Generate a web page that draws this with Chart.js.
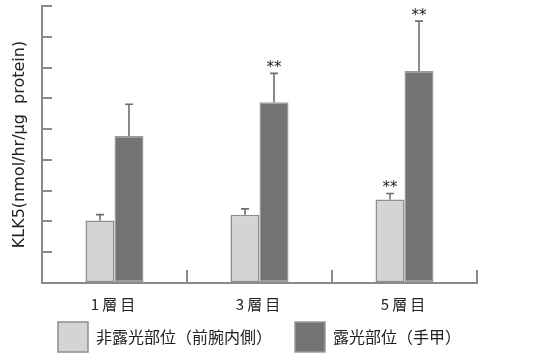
<!DOCTYPE html>
<html><head><meta charset="utf-8">
<script src="https://cdn.jsdelivr.net/npm/chart.js@4/dist/chart.umd.min.js"></script>
<style>html,body{margin:0;padding:0;background:#fff}#wrap{width:545px;height:362px}</style>
</head><body><div id="wrap"><canvas id="c" width="545" height="362"></canvas></div>
<script>
const categories = ['1層目', '3層目', '5層目'];
const seriesNames = ['非露光部位（前腕内側）', '露光部位（手甲）'];
const unexposedMean = [2.03, 2.22, 2.71];
const unexposedSD = [0.19, 0.19, 0.20];
const exposedMean = [4.78, 5.87, 6.89];
const exposedSD = [1.03, 0.94, 1.62];
const unexposedSig = ['', '', '**'];
const exposedSig = ['', '**', '**'];
const yMin = 0, yMax = 9, yStep = 1;
const yTitle = 'KLK5(nmol/hr/μg  protein)';

const axisColor = '#8a8a8a';
const errColor = '#6e6e6e';

const errorBarPlugin = {
  id: 'errorBars',
  afterDatasetsDraw(chart) {
    const ctx = chart.ctx;
    const ys = chart.scales.y;
    chart.data.datasets.forEach((ds, i) => {
      const meta = chart.getDatasetMeta(i);
      meta.data.forEach((el, j) => {
        const top = ys.getPixelForValue(ds.data[j] + ds.sd[j]);
        const x = el.x;
        ctx.save();
        ctx.strokeStyle = errColor;
        ctx.lineWidth = 1.6;
        ctx.beginPath();
        ctx.moveTo(x, el.y);
        ctx.lineTo(x, top);
        ctx.moveTo(x - 4, top);
        ctx.lineTo(x + 4, top);
        ctx.stroke();
        if (ds.sig[j]) {
          ctx.fillStyle = '#222';
          ctx.font = '15px "DejaVu Sans"';
          ctx.textAlign = 'center';
          ctx.textBaseline = 'alphabetic';
          ctx.fillText(ds.sig[j], x, top - 1);
        }
        ctx.restore();
      });
    });
  }
};

const layoutTweak = {
  id: 'layoutTweak',
  afterLayout(chart) {
    if (chart.legend) { chart.legend.left += 21; chart.legend.right += 21; }
    const s = chart.scales.x;
    if (s) {
      s.bottom += 30;
      if (!s._lsWrapped) {
        const orig = s.drawLabels.bind(s);
        s.drawLabels = (area) => {
          const ctx = chart.ctx;
          ctx.save();
          ctx.letterSpacing = '3px';
          orig(area);
          ctx.restore();
        };
        s._lsWrapped = true;
      }
    }
  }
};

new Chart(document.getElementById('c'), {
  type: 'bar',
  data: {
    labels: categories,
    datasets: [
      { label: seriesNames[0], data: unexposedMean, sd: unexposedSD, sig: unexposedSig,
        backgroundColor: '#d4d4d4', borderColor: '#8e8e8e', borderWidth: 1.5, borderSkipped: false },
      { label: seriesNames[1], data: exposedMean, sd: exposedSD, sig: exposedSig,
        backgroundColor: '#737373', borderColor: '#9a9a9a', borderWidth: 1.5, borderSkipped: false }
    ]
  },
  options: {
    responsive: false,
    animation: false,
    devicePixelRatio: 1,
    categoryPercentage: 0.4,
    barPercentage: 1.0,
    layout: { padding: { top: 6, right: 68, bottom: 0, left: 0 } },
    plugins: {
      tooltip: { enabled: false },
      legend: {
        position: 'bottom',
        labels: {
          boxWidth: 30, boxHeight: 30, padding: 23, color: '#222',
          font: { family: '"Noto Sans CJK JP"', size: 16 }
        }
      }
    },
    scales: {
      x: {
        offset: true,
        grid: { display: true, offset: true, drawOnChartArea: false, drawTicks: true, tickLength: -13, color: axisColor, lineWidth: 2 },
        border: { display: true, color: axisColor, width: 2 },
        ticks: { padding: 25, color: '#222', font: { family: '"Noto Sans CJK JP"', size: 15 } },
        afterFit: s => { s.height = 16; }
      },
      y: {
        min: yMin, max: yMax,
        ticks: { stepSize: yStep, display: false },
        grid: { drawOnChartArea: false, drawTicks: true, tickLength: -10, color: axisColor, lineWidth: 2 },
        border: { display: true, color: axisColor, width: 2 },
        title: { display: true, text: yTitle, color: '#222', font: { family: '"DejaVu Sans"', size: 16 }, padding: { top: 10, bottom: 0 } },
        afterFit: s => { s.width = 42; }
      }
    }
  },
  plugins: [errorBarPlugin, layoutTweak]
});
</script>
</body></html>
